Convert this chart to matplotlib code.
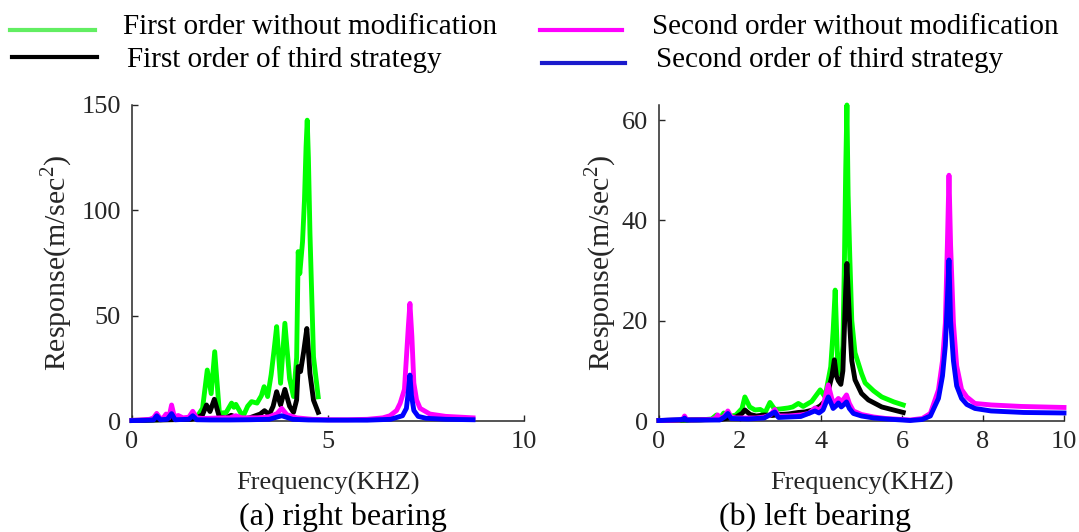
import matplotlib
matplotlib.use("Agg")
import matplotlib.pyplot as plt
from matplotlib.lines import Line2D

plt.rcParams['font.family'] = ['Liberation Serif', 'DejaVu Serif']
plt.rcParams['mathtext.fontset'] = 'custom'
plt.rcParams['mathtext.rm'] = 'Liberation Serif'

# ---------------- data: (a) right bearing ----------------
ra_green_f = [0, 0.5, 1.0, 1.5, 1.66, 1.8, 1.92, 2.02, 2.11, 2.23, 2.4, 2.54, 2.6, 2.65, 2.83, 2.95,
              3.05, 3.19, 3.3, 3.37, 3.46, 3.55, 3.62, 3.69, 3.79, 3.90, 4.02, 4.12, 4.2, 4.24, 4.28,
              4.35, 4.40, 4.44, 4.47, 4.50, 4.54, 4.63, 4.75]
ra_green_v = [0.3, 0.5, 0.8, 1.2, 2, 6, 24.2, 13, 32.9, 3.7, 4, 8.5, 6.5, 7.9, 2, 7,
              9.2, 8.5, 12, 16.3, 11.6, 22, 33, 44.8, 17.9, 46.4, 20, 11.6, 30, 80.4, 70,
              85, 105, 130, 142.8, 125, 89, 30.5, 11.5]

ra_black_f = [0, 1.5, 1.66, 1.8, 1.90, 1.99, 2.10, 2.23, 2.4, 2.53, 2.65, 2.83, 3.0, 3.15, 3.27, 3.38,
              3.5, 3.6, 3.69, 3.79, 3.90, 4.02, 4.12, 4.2, 4.24, 4.30, 4.38, 4.46, 4.54, 4.63, 4.75]
ra_black_v = [0.2, 0.8, 1.5, 3, 7.6, 4.5, 10.3, 1.8, 1.5, 2.7, 1.8, 1, 1.5, 2.5, 3.3, 4.9,
              3, 7, 13.9, 7.6, 15, 7, 4.1, 10, 25.8, 23.5, 33, 43.9, 22.5, 9.9, 4.1]

ra_magenta_f = [0, 0.2, 0.45, 0.55, 0.63, 0.72, 0.8, 0.87, 0.94, 1.01, 1.08, 1.18, 1.3, 1.45, 1.55,
                1.65, 1.8, 2.0, 2.3, 2.5, 2.65, 2.8, 3.2, 3.5, 3.7, 3.82, 3.95, 4.2, 4.6, 5.0, 5.5,
                6.0, 6.4, 6.58, 6.75, 6.84, 6.95, 7.0, 7.05, 7.09, 7.14, 7.19, 7.26, 7.35, 7.6, 8.0, 8.7]
ra_magenta_v = [0.3, 0.5, 0.8, 1.5, 3.6, 1.2, 1.5, 3.3, 1.5, 7.6, 2, 2.6, 1.5, 1.8, 4.6,
                1.5, 1.2, 1.3, 1.5, 1.5, 2.5, 1.5, 1.5, 2, 3.5, 6.0, 3, 1.5, 0.8, 0.6, 0.6,
                0.8, 1.5, 2.5, 5, 8.4, 15, 30, 45, 55.8, 40, 18, 10, 6, 3.3, 2.2, 1.5]

ra_blue_f = [0, 0.3, 0.55, 0.63, 0.72, 0.9, 1.01, 1.1, 1.45, 1.55, 1.65, 2.0, 2.5, 3.0, 3.5, 3.82,
             4.1, 4.5, 5.0, 6.0, 6.6, 6.9, 7.0, 7.05, 7.09, 7.13, 7.19, 7.3, 7.5, 8.0, 8.7]
ra_blue_v = [0.2, 0.3, 0.5, 2.5, 0.6, 0.8, 3.5, 0.6, 0.8, 2.5, 0.6, 0.5, 0.5, 0.6, 0.8, 2.5,
             0.8, 0.5, 0.4, 0.4, 0.8, 2.5, 6, 14, 21.8, 12, 5, 2.2, 1.3, 0.8, 0.6]

# ---------------- data: (b) left bearing ----------------
lb_green_f = [0, 1.0, 1.3, 1.42, 1.5, 1.6, 1.7, 1.9, 2.05, 2.12, 2.24, 2.37, 2.5, 2.62, 2.74, 2.86,
              3.0, 3.19, 3.3, 3.44, 3.56, 3.77, 3.98, 4.1, 4.24, 4.30, 4.35, 4.41, 4.48, 4.54, 4.58,
              4.61, 4.64, 4.67, 4.71, 4.76, 4.84, 5.0, 5.09, 5.3, 5.5, 5.8, 6.03]
lb_green_v = [0.1, 0.2, 0.4, 1.2, 0.5, 1.6, 0.8, 1.2, 2.5, 4.8, 2.8, 2.2, 2.3, 1.7, 3.7, 2.3,
              2.4, 2.6, 2.8, 3.5, 2.9, 3.9, 6.2, 4.8, 10.8, 18, 26.1, 12, 9.4, 15, 32.7,
              50, 63, 45, 33, 20, 13.6, 9.5, 7.6, 6, 4.8, 3.8, 3.2]

lb_black_f = [0, 1.5, 1.9, 2.05, 2.12, 2.25, 2.4, 2.6, 2.8, 3.0, 3.2, 3.44, 3.6, 3.8, 3.98, 4.1,
              4.18, 4.27, 4.33, 4.38, 4.43, 4.49, 4.54, 4.58, 4.61, 4.64, 4.67, 4.71, 4.76, 4.84,
              5.0, 5.17, 5.5, 6.03]
lb_black_v = [0.1, 0.3, 0.8, 1.5, 2.2, 1.3, 1, 1.2, 1.1, 1.3, 1.4, 1.7, 1.8, 2.2, 3, 4,
              6, 9, 12.2, 9, 8, 7.3, 10, 19, 26, 31.4, 26, 19, 12, 8.2,
              5.5, 4.2, 2.8, 1.7]

lb_magenta_f = [0, 0.5, 0.6, 0.63, 0.68, 0.8, 1.3, 1.4, 1.45, 1.5, 1.62, 1.7, 1.78, 1.9, 2.2, 2.4,
                2.6, 2.75, 2.86, 2.95, 3.2, 3.5, 3.7, 3.85, 3.95, 4.05, 4.18, 4.25, 4.3, 4.37, 4.43,
                4.5, 4.57, 4.63, 4.7, 4.8, 5.0, 5.3, 5.6, 6.0, 6.2, 6.5, 6.7, 6.9, 7.0, 7.07, 7.12,
                7.16, 7.2, 7.27, 7.35, 7.47, 7.6, 7.8, 8.2, 8.95, 10]
lb_magenta_v = [0.1, 0.2, 0.5, 1.0, 0.3, 0.2, 0.3, 0.6, 1.2, 0.4, 1, 2, 0.8, 0.6, 0.6, 0.6,
                0.8, 1.2, 2.3, 1, 1, 1.2, 1.5, 2.6, 2.2, 3, 7.2, 5, 3.5, 4, 4.5,
                3.8, 4.5, 5.2, 3.5, 2, 1.3, 0.8, 0.5, 0.3, 0.2, 0.5, 1.5, 6.2, 12, 19.5, 35,
                49, 35, 19.5, 11, 6.3, 4.8, 3.5, 3.2, 2.9, 2.7]

lb_blue_f = [0, 0.6, 0.63, 0.68, 1.5, 1.62, 1.7, 1.78, 2.2, 2.6, 2.86, 2.95, 3.5, 3.85, 3.95, 4.05,
             4.18, 4.25, 4.3, 4.37, 4.43, 4.5, 4.57, 4.63, 4.7, 4.8, 5.0, 5.3, 5.6, 6.0, 6.2, 6.5,
             6.7, 6.9, 7.0, 7.07, 7.12, 7.16, 7.2, 7.27, 7.35, 7.47, 7.6, 7.8, 8.2, 9.0, 10]
lb_blue_v = [0.1, 0.3, 0.6, 0.2, 0.2, 0.8, 1.5, 0.5, 0.4, 0.6, 1.8, 0.7, 0.9, 2, 1.6, 2.2,
             4.8, 3.5, 2.5, 3, 3.6, 2.8, 3.3, 3.8, 2.5, 1.5, 1, 0.6, 0.4, 0.2, 0.1, 0.3,
             1.0, 4.5, 9, 15, 24, 32.1, 20, 12, 7, 4.5, 3.3, 2.5, 2, 1.7, 1.6]

series_labels = ['First order without modification', 'First order of third strategy',
                 'Second order without modification', 'Second order of third strategy']
line_colors = ['#00FF00', '#000000', '#FF00FF', '#0000FF']
legend_colors = ['#62EE62', '#000000', '#FF00FF', '#1A1ACC']

left_xticks = [0, 5, 10]
left_yticks = [0, 50, 100, 150]
right_xticks = [0, 2, 4, 6, 8, 10]
right_yticks = [0, 20, 40, 60]

xlabel_text = 'Frequency(KHZ)'
ylabel_text = r'Response(m/sec$^{\mathrm{2}}$)'
captions = ['(a) right bearing', '(b) left bearing']

W, H = 1079, 532
fig = plt.figure(figsize=(W / 100, H / 100), dpi=100)

axc = '#262626'
ax1 = fig.add_axes([132 / W, 1 - 421 / H, 392 / W, 316 / H])
ax2 = fig.add_axes([659 / W, 1 - 421 / H, 405 / W, 316 / H])

lw = 3.5
for ax, data in [
    (ax1, [(ra_green_f, ra_green_v), (ra_black_f, ra_black_v), (ra_magenta_f, ra_magenta_v), (ra_blue_f, ra_blue_v)]),
    (ax2, [(lb_green_f, lb_green_v), (lb_black_f, lb_black_v), (lb_magenta_f, lb_magenta_v), (lb_blue_f, lb_blue_v)]),
]:
    for (f, v), c in zip(data, line_colors):
        ax.plot(f, v, color=c, lw=lw, clip_on=False, solid_joinstyle='round', zorder=3)

ax1.set_xlim(0, 10)
ax1.set_ylim(0, 150)
ax1.set_xticks(left_xticks)
ax1.set_yticks(left_yticks)
ax2.set_xlim(0, 10)
ax2.set_ylim(0, 63)
ax2.set_xticks(right_xticks)
ax2.set_yticks(right_yticks)

for ax in (ax1, ax2):
    for s in ('top', 'right'):
        ax.spines[s].set_visible(False)
    for s in ('left', 'bottom'):
        ax.spines[s].set_color(axc)
        ax.spines[s].set_linewidth(1.1)
    ax.tick_params(direction='in', length=4, width=1.0, color=axc, labelcolor=axc,
                   labelsize=19)
    ax.tick_params(axis='x', pad=7)
    ax.tick_params(axis='y', pad=8)
    ax.set_xlabel(xlabel_text, fontsize=19, color=axc)
    ax.xaxis.set_label_coords(0.5, -0.16)
    ax.patch.set_alpha(0)

# y labels
fig.text(57 / W, 1 - 263 / H, ylabel_text, rotation=90, ha='center', va='center',
         fontsize=21.5, color=axc)
fig.text(601 / W, 1 - 263 / H, ylabel_text, rotation=90, ha='center', va='center',
         fontsize=21.5, color=axc)

# captions
fig.text(343 / W, 1 - 517 / H, captions[0], ha='center', va='center', fontsize=23, color='black')
fig.text(815 / W, 1 - 517 / H, captions[1], ha='center', va='center', fontsize=23, color='black')

# legend (figure-level)
leg_items = [
    (10, 95, 30, 123, 34, series_labels[0], legend_colors[0]),
    (12, 97, 57, 127, 67, series_labels[1], legend_colors[1]),
    (540, 622, 30, 652, 34, series_labels[2], legend_colors[2]),
    (542, 625, 63, 656, 67, series_labels[3], legend_colors[3]),
]
for x0, x1, ly, tx, ty, lab, col in leg_items:
    fig.add_artist(Line2D([x0 / W, x1 / W], [1 - ly / H, 1 - ly / H], color=col, lw=3,
                          transform=fig.transFigure))
    fig.text(tx / W, 1 - ty / H, lab, ha='left', va='baseline', fontsize=21, color='black')

fig.savefig('out.png', dpi=100)
